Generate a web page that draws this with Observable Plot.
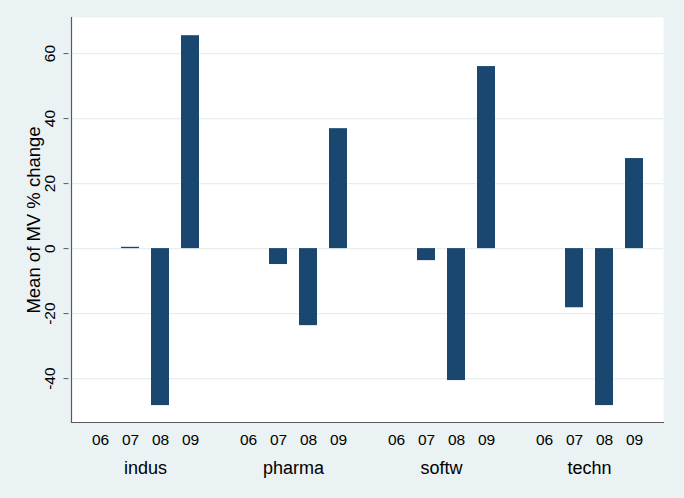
<!DOCTYPE html>
<html>
<head>
<meta charset="utf-8">
<script src="https://cdn.jsdelivr.net/npm/d3@7"></script>
<script src="https://cdn.jsdelivr.net/npm/@observablehq/plot@0.6"></script>
<style>
  html, body { margin: 0; padding: 0; background: #EAF2F3; }
</style>
</head>
<body>
<div id="chart"></div>
<script>
const industries = ["indus", "pharma", "softw", "techn"];
const years = ["06", "07", "08", "09"];
// Mean of MV % change per year (06 has no value)
const indus  = [null, 0.4, -48.3, 65.5];
const pharma = [null, -4.9, -23.7, 36.9];
const softw  = [null, -3.7, -40.6, 56.0];
const techn  = [null, -18.2, -48.3, 27.7];
const yTicks = [-40, -20, 0, 20, 40, 60];
const yTitle = ["Mean of MV % change"];

const series = {indus, pharma, softw, techn};
const data = [];
for (const ind of industries) {
  series[ind].forEach((v, i) => {
    if (v != null) data.push({industry: ind, year: years[i], value: v});
  });
}

const chart = Plot.plot({
  width: 684,
  height: 498,
  marginLeft: 68,
  marginRight: 18,
  marginTop: 17,
  marginBottom: 76,
  style: {background: "#EAF2F3", fontFamily: "'Liberation Sans', Arial, sans-serif", fontSize: "15.5px", color: "#000"},
  fx: {domain: industries, paddingInner: 0, paddingOuter: 0.017, axis: null, label: null},
  x: {domain: years, paddingInner: 0.387, paddingOuter: 0.585, axis: null, label: null},
  y: {domain: [-53.5, 71.1], axis: null, label: null},
  marks: [
    Plot.frame({fill: "white", stroke: null, facet: "super"}),
    Plot.gridY(yTicks, {stroke: "#E6EEF0", strokeOpacity: 1, strokeWidth: 1.2}),
    Plot.barY(data, {fx: "industry", x: "year", y: "value", fill: "#1A476F"}),
    Plot.frame({anchor: "left", stroke: "#5a5a5a", strokeWidth: 1.2, facet: "super"}),
    Plot.frame({anchor: "bottom", stroke: "#5a5a5a", strokeWidth: 1.2, facet: "super"}),
    Plot.axisX({tickSize: 0, tickPadding: 11, fontSize: 15.5}),
    Plot.axisFx({anchor: "bottom", tickSize: 0, tickPadding: 39, fontSize: 18}),
    Plot.axisY(yTicks, {tickSize: 5, tickRotate: -90, tickPadding: 9, stroke: "#5a5a5a", dx: -2.5,
                tickFormat: d => String(d), fontSize: 15.5, label: null}),
    Plot.text(yTitle, {text: d => d, facet: "super", frameAnchor: "left", textAnchor: "middle",
                       lineAnchor: "middle", rotate: -90, dx: -37, fontSize: 18.5, fill: "#000"})
  ]
});
document.getElementById("chart").appendChild(chart);
</script>
</body>
</html>
